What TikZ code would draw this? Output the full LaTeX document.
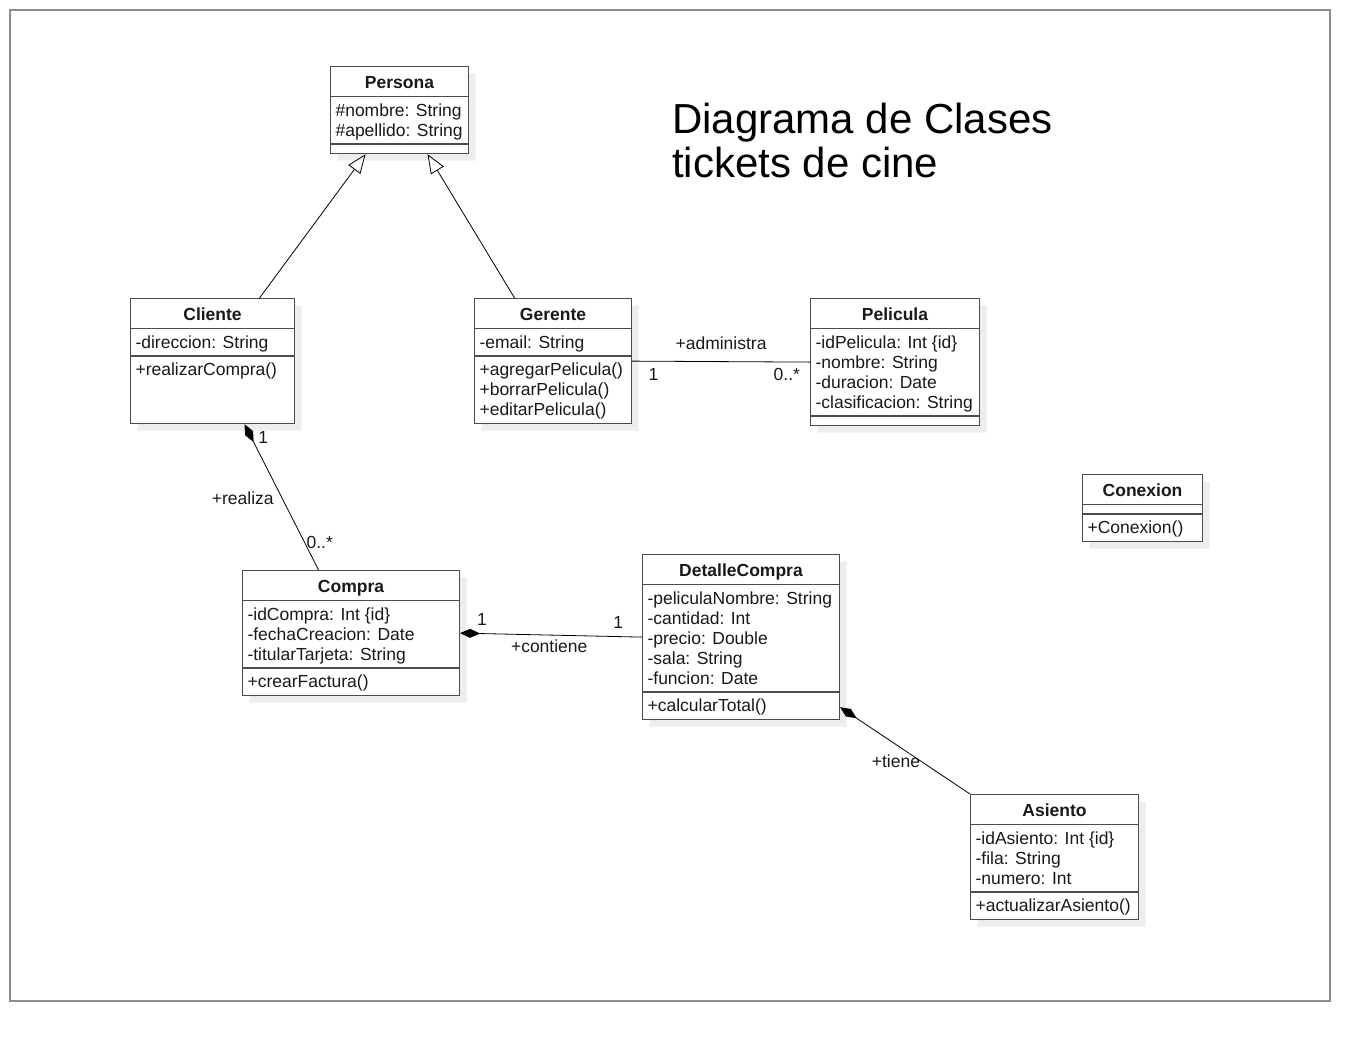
\documentclass[tikz,border=0pt]{standalone}
\usepackage{fontspec}
\setmainfont{Liberation Sans}
\usetikzlibrary{positioning,arrows.meta,shapes.multipart,shadows}
\newcommand{\umlfont}{\fontsize{17.5}{20}\selectfont}
\newcommand{\titlefont}{\fontsize{42}{44}\selectfont}
\newcommand{\umlhead}[1]{\raisebox{-2pt}[\height][\depth]{\rule[-6pt]{0pt}{22pt}\textbf{#1}}}
\newcommand{\members}[1]{\raisebox{-2pt}[\height][\depth]{\begin{tabular}{@{}l@{}}#1\end{tabular}}}
\newcommand{\nomembers}{\mbox{\rule{0pt}{2pt}\hspace*{1pt}}}
\tikzset{
  umlclass/.style={rectangle split, rectangle split parts=3, draw=black!70, line width=1.1pt, fill=white, text=black!90, anchor=north west, inner xsep=5pt, inner ysep=3.3pt, rectangle split part align={center,left,left}, drop shadow={shadow xshift=7pt, shadow yshift=-7pt, fill=black!7, opacity=1, draw=none}, font=\umlfont},
  inherit/.style={-{Triangle[open, length=19pt, width=15pt]}, line width=0.8pt},
  compose/.style={{Diamond[length=20pt, width=9pt]}-, line width=0.8pt},
  assoc/.style={line width=0.8pt},
  rolelabel/.style={font=\umlfont, text=black!90, inner sep=0pt, text height=12.5pt, text depth=3.5pt},
  frame/.style={draw=black!45, line width=1.5pt}
}
\begin{document}
\begin{tikzpicture}[x=1pt, y=-1pt]
  \useasboundingbox (0,0) rectangle (1370,1042);
  \draw[frame] (10,10) rectangle (1330,1001);
  \node[anchor=north west, inner sep=0pt, align=left, font=\titlefont] (title) at (672,102) {\strut Diagrama de Clases\\\strut tickets de cine};
  \node[umlclass, minimum width=138pt] (persona) at (330,66) {\umlhead{Persona}\nodepart{two}\members{\#nombre: String\\\#apellido: String}\nodepart{three}\nomembers};
  \node[umlclass, minimum width=164pt] (cliente) at (130,298) {\umlhead{Cliente}\nodepart{two}\members{-direccion: String}\nodepart{three}\members{+realizarCompra()\\ \strut\\ \strut}};
  \node[umlclass, minimum width=157pt] (gerente) at (474,298) {\umlhead{Gerente}\nodepart{two}\members{-email: String}\nodepart{three}\members{+agregarPelicula()\\+borrarPelicula()\\+editarPelicula()}};
  \node[umlclass, minimum width=169pt] (pelicula) at (810,298) {\umlhead{Pelicula}\nodepart{two}\members{-idPelicula: Int \{id\}\\-nombre: String\\-duracion: Date\\-clasificacion: String}\nodepart{three}\nomembers};
  \node[umlclass, minimum width=120pt] (conexion) at (1082,474) {\umlhead{Conexion}\nodepart{two}\nomembers\nodepart{three}\members{+Conexion()}};
  \node[umlclass, minimum width=217pt] (compra) at (242,570) {\umlhead{Compra}\nodepart{two}\members{-idCompra: Int \{id\}\\-fechaCreacion: Date\\-titularTarjeta: String}\nodepart{three}\members{+crearFactura()}};
  \node[umlclass, minimum width=197pt] (detalle) at (642,554) {\umlhead{DetalleCompra}\nodepart{two}\members{-peliculaNombre: String\\-cantidad: Int\\-precio: Double\\-sala: String\\-funcion: Date}\nodepart{three}\members{+calcularTotal()}};
  \node[umlclass, minimum width=168pt] (asiento) at (970,794) {\umlhead{Asiento}\nodepart{two}\members{-idAsiento: Int \{id\}\\-fila: String\\-numero: Int}\nodepart{three}\members{+actualizarAsiento()}};
  \draw[inherit] ([xshift=47pt]cliente.north) -- ([xshift=-34pt]persona.south);
  \draw[inherit] ([xshift=-38.5pt]gerente.north) -- ([xshift=28pt]persona.south);
  \draw[assoc] (gerente.east) -- node[rolelabel, above=8pt] {+administra} node[rolelabel, pos=0.12, below=6pt] {1} node[rolelabel, pos=0.87, below=6pt] {0..*} (pelicula.west);
  \draw[compose] ([xshift=32pt]cliente.south) -- node[rolelabel, pos=0.1, right=6pt] {1} node[rolelabel, pos=0.52, left=9pt] {+realiza} node[rolelabel, pos=0.82, right=1pt] {0..*} ([xshift=-32.5pt]compra.north);
  \draw[compose] (compra.east) -- node[rolelabel, pos=0.12, above=4pt] {1} node[rolelabel, pos=0.87, above=4pt] {1} node[rolelabel, pos=0.49, below=5pt] {+contiene} (detalle.west);
  \draw[compose] ([yshift=13pt]detalle.south east) -- node[rolelabel, pos=0.43, below=10pt] {+tiene} (asiento.north west);
\end{tikzpicture}
\end{document}
